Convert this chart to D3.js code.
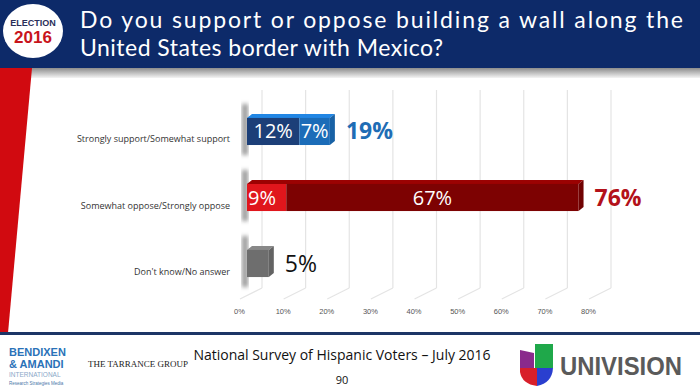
<!DOCTYPE html>
<html>
<head>
<meta charset="utf-8">
<script src="https://cdn.jsdelivr.net/npm/d3@7"></script>
<style>
  body { margin: 0; background: #fff; }
  svg { display: block; font-family: "Open Sans", "Noto Sans", sans-serif; }
</style>
</head>
<body>
<script>
const width = 700, height = 391;

// survey answers
const categories = ["Strongly support/Somewhat support", "Somewhat oppose/Strongly oppose", "Don't know/No answer"];
const firstPart = [12, 9, 5];
const secondPart = [7, 67, 0];
const totals = [19, 76, 5];
const ticks = [0, 10, 20, 30, 40, 50, 60, 70, 80];

const firstColors = ["#1c3f78", "#e0161c", "#6e6e6e"];
const secondColors = ["#1b6cb8", "#7d0202", "#6e6e6e"];
const totalColors = ["#1f6db5", "#b3111a", "#111"];

const svg = d3.select("body").append("svg")
  .attr("width", width)
  .attr("height", height);

const defs = svg.append("defs");
defs.append("filter").attr("id", "blur")
  .append("feGaussianBlur").attr("stdDeviation", 2);
const hg = defs.append("linearGradient").attr("id", "strip")
  .attr("x1", 0).attr("y1", 0).attr("x2", 0).attr("y2", 1);
hg.append("stop").attr("offset", 0).attr("stop-color", "#8c8c8c");
hg.append("stop").attr("offset", 1).attr("stop-color", "#f4f4f4");

// header
svg.append("rect").attr("width", width).attr("height", 68).attr("fill", "#0d2a69");
svg.append("rect").attr("y", 68).attr("width", width).attr("height", 10).attr("fill", "url(#strip)");
svg.append("path")
  .attr("d", "M0,68 L32,68 L8,333 L0,333 Z")
  .attr("fill", "#d10a10");

svg.append("ellipse").attr("cx", 33).attr("cy", 31).attr("rx", 30).attr("ry", 27).attr("fill", "#fff");
svg.append("text").attr("x", 33).attr("y", 26).attr("text-anchor", "middle")
  .attr("font-size", 9).attr("font-weight", "bold").attr("fill", "#2a2f5a")
  .attr("font-family", "Liberation Sans").text("ELECTION");
svg.append("text").attr("x", 33).attr("y", 43).attr("text-anchor", "middle")
  .attr("font-size", 17).attr("font-weight", "bold").attr("fill", "#c8141c")
  .attr("font-family", "Liberation Sans").text("2016");

const title = svg.append("g").attr("font-family", "Lato").attr("font-size", 23).attr("fill", "#fff");
title.append("text").attr("x", 80).attr("y", 28)
  .attr("textLength", 603).attr("lengthAdjust", "spacing")
  .text("Do you support or oppose building a wall along the");
title.append("text").attr("x", 80).attr("y", 56)
  .attr("textLength", 363).attr("lengthAdjust", "spacing")
  .text("United States border with Mexico?");

// chart
const x = d3.scaleLinear().domain([0, 80]).range([247, 596]);
const y = d3.scaleBand().domain(categories).range([79, 316]).padding(0.59);
const dx = 15;

// back wall gridlines and floor
const grid = svg.append("g");
grid.selectAll("line.v").data(ticks).join("line")
  .attr("class", "v")
  .attr("x1", d => x(d) + dx).attr("x2", d => x(d) + dx)
  .attr("y1", 90).attr("y2", 288)
  .attr("stroke", "#e4e4e4").attr("stroke-width", 1.2);
grid.selectAll("line.f").data(ticks).join("line")
  .attr("class", "f")
  .attr("x1", d => x(d) - 7).attr("x2", d => x(d) + dx)
  .attr("y1", 299).attr("y2", 288)
  .attr("stroke", "#e4e4e4").attr("stroke-width", 1.2);

const axis = svg.append("g")
  .attr("transform", "translate(-8,309)")
  .call(d3.axisBottom(x).tickValues(ticks).tickFormat(d => d + "%").tickSize(0).tickPadding(0));
axis.select(".domain").remove();
axis.selectAll("text").attr("font-size", 7.5).attr("fill", "#555");

// category labels
svg.selectAll("text.cat").data(categories).join("text")
  .attr("class", "cat")
  .attr("x", 230).attr("y", d => y(d) + y.bandwidth() / 2 + 11)
  .attr("text-anchor", "end")
  .attr("font-size", 9).attr("fill", "#333")
  .text(d => d);

const bh = y.bandwidth();
const bars = svg.selectAll("g.bar").data(categories).join("g").attr("class", "bar");

// soft shadow on the left wall
bars.append("rect")
  .attr("x", 242).attr("y", d => y(d) - 14)
  .attr("width", 6).attr("height", bh + 24)
  .attr("fill", "#9a9a9a").attr("filter", "url(#blur)");

const d3x = 5, d3y = -4;
bars.each(function(c, i) {
  const g = d3.select(this);
  const top = y(c);
  const x0 = x(0), x1 = x(firstPart[i]), x2 = x(totals[i]);
  const endColor = secondPart[i] ? secondColors[i] : firstColors[i];
  // top face
  g.append("path")
    .attr("d", `M${x0},${top} L${x0 + d3x},${top + d3y} L${x2 + d3x},${top + d3y} L${x2},${top} Z`)
    .attr("fill", d3.color(endColor).brighter(0.6));
  // end face
  g.append("path")
    .attr("d", `M${x2},${top} L${x2 + d3x},${top + d3y} L${x2 + d3x},${top + bh + d3y} L${x2},${top + bh} Z`)
    .attr("fill", d3.color(endColor).darker(0.3));
  g.append("rect").attr("x", x0).attr("y", top).attr("width", x1 - x0).attr("height", bh)
    .attr("fill", firstColors[i]);
  if (secondPart[i]) {
    g.append("rect").attr("x", x1).attr("y", top).attr("width", x2 - x1).attr("height", bh)
      .attr("fill", secondColors[i]);
  }
  // segment labels
  if (i < 2) {
    g.append("text")
      .attr("x", i === 0 ? (x0 + x1) / 2 : x0 + 1)
      .attr("y", top + bh / 2 + 7)
      .attr("text-anchor", i === 0 ? "middle" : "start")
      .attr("font-size", 20).attr("fill", "#fff")
      .text(firstPart[i] + "%");
    g.append("text")
      .attr("x", (x1 + x2) / 2)
      .attr("y", top + bh / 2 + 7)
      .attr("text-anchor", "middle")
      .attr("font-size", 20).attr("fill", "#fff")
      .text(secondPart[i] + "%");
  }
  g.append("text")
    .attr("x", x2 + 16).attr("y", top + bh / 2 + 8)
    .attr("font-size", 23).attr("font-weight", i < 2 ? "bold" : "normal")
    .attr("fill", totalColors[i])
    .text(totals[i] + "%");
});

// footer
svg.append("rect").attr("y", 332).attr("width", width).attr("height", 3).attr("fill", "#1d3566");

const bx = svg.append("g").attr("font-family", "Liberation Sans").attr("fill", "#2a72b8");
bx.append("text").attr("x", 9).attr("y", 356).attr("font-size", 11).attr("font-weight", "bold").text("BENDIXEN");
bx.append("text").attr("x", 9).attr("y", 368).attr("font-size", 11).attr("font-weight", "bold").text("& AMANDI");
bx.append("text").attr("x", 9).attr("y", 377).attr("font-size", 6.5).attr("fill", "#8aa8c8").text("INTERNATIONAL");
bx.append("text").attr("x", 9).attr("y", 385).attr("font-size", 4.5).attr("fill", "#4a78a8").text("Research Strategies Media");

svg.append("text").attr("x", 88).attr("y", 367)
  .attr("font-family", "Liberation Serif").attr("font-size", 9).attr("fill", "#222")
  .text("THE TARRANCE GROUP");

svg.append("text").attr("x", 342).attr("y", 360).attr("text-anchor", "middle")
  .attr("font-size", 14).attr("fill", "#111")
  .text("National Survey of Hispanic Voters \u2013 July 2016");
svg.append("text").attr("x", 342).attr("y", 384).attr("text-anchor", "middle")
  .attr("font-size", 11).attr("fill", "#111")
  .text("90");

const uv = svg.append("g");
uv.append("path").attr("d", "M520,350 L534,353 L534,368 L520,368 Z").attr("fill", "#8a2a8c");
uv.append("path").attr("d", "M535,344 L553,344 L553,368 L535,368 Z").attr("fill", "#1fa84a");
uv.append("path").attr("d", "M520,368 L537,368 L537,386 Q522,384 520,372 Z").attr("fill", "#d81f2a");
uv.append("path").attr("d", "M537,368 L553,368 Q552,383 537,386 Z").attr("fill", "#2a3fcf");
svg.append("text").attr("x", 560).attr("y", 375)
  .attr("font-family", "Liberation Sans").attr("font-weight", "bold")
  .attr("font-size", 25).attr("fill", "#5a5a5a")
  .attr("textLength", 122).attr("lengthAdjust", "spacingAndGlyphs")
  .text("UNIVISION");
</script>
</body>
</html>
